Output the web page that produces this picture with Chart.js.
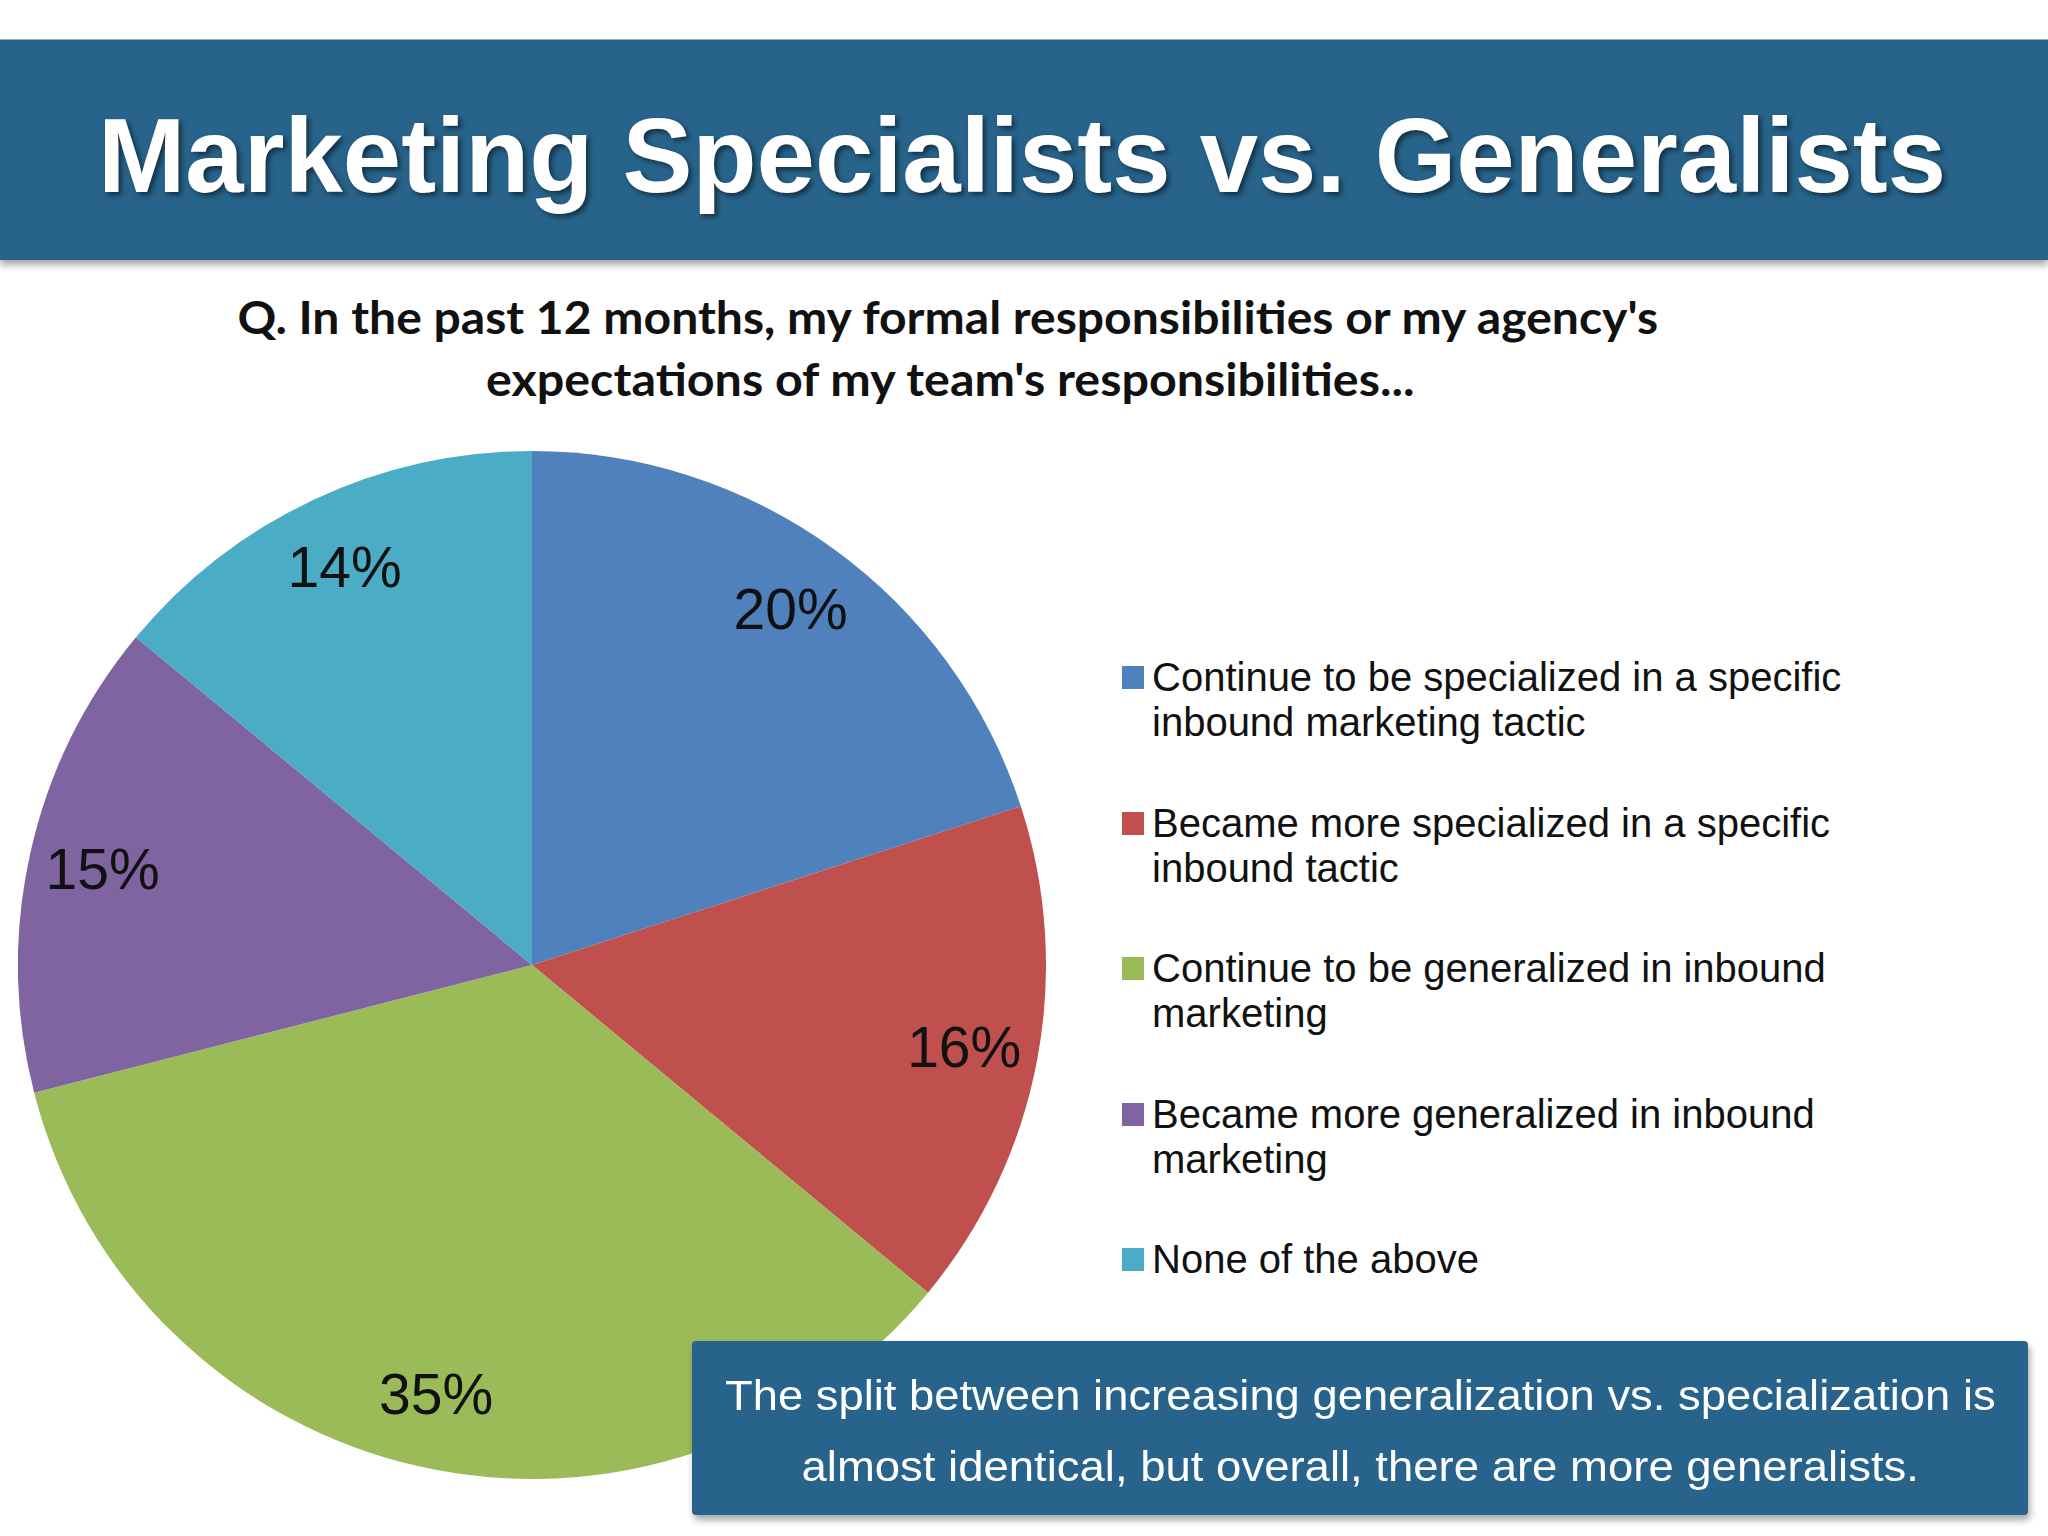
<!DOCTYPE html>
<html><head><meta charset="utf-8">
<script src="https://cdn.jsdelivr.net/npm/chart.js@4.4.1/dist/chart.umd.min.js"></script>
<style>
html,body{margin:0;padding:0;background:#fff;}
body{width:2048px;height:1536px;position:relative;overflow:hidden;font-family:"Liberation Sans",Arial,sans-serif;}
#band{position:absolute;left:0;top:39px;width:2048px;height:220px;background:#27638A;box-shadow:0 5px 7px rgba(0,0,0,0.35);border-top:1px solid #8fb2cc;}
.t{position:absolute;white-space:nowrap;line-height:1;transform-origin:center top;}
#title{font-weight:bold;font-size:105px;color:#fff;text-shadow:3px 3px 5px rgba(0,0,0,0.5);}
.sub{font-family:Lato,"Liberation Sans",sans-serif;font-weight:bold;font-size:46px;color:#111;}
#chartWrap{position:absolute;left:18px;top:451px;width:1028px;height:1028px;}
.leg{position:absolute;left:1122px;font-size:40px;line-height:45px;color:#111;}
.leg .sw{position:absolute;left:0;top:11px;width:22px;height:23px;}
.leg .tx{position:absolute;left:30px;top:0;white-space:nowrap;}
#callout{position:absolute;left:692px;top:1341px;width:1336px;height:174px;background:#27638A;border-radius:4px;box-shadow:2px 5px 7px rgba(0,0,0,0.35);}
.cal{font-size:43px;color:#fff;}
</style>
</head><body>
<div id="band"></div>
<div class="t" id="title" data-cx="1022" data-w="1848" style="top:103px">Marketing Specialists vs. Generalists</div>
<div class="t sub" data-cx="948" data-w="1421" style="top:294px">Q. In the past 12 months, my formal responsibilities or my agency's</div>
<div class="t sub" data-cx="950" data-w="928" style="top:356px">expectations of my team's responsibilities...</div>
<div id="chartWrap"><canvas id="c" width="1028" height="1028"></canvas></div>
<div id="legend"></div>
<div id="callout"></div>
<div class="t cal" data-cx="1360" data-w="1271" style="top:1374px">The split between increasing generalization vs. specialization is</div>
<div class="t cal" data-cx="1360" data-w="1117" style="top:1445px">almost identical, but overall, there are more generalists.</div>
<script>
const categories = [
  ["Continue to be specialized in a specific", "inbound marketing tactic"],
  ["Became more specialized in a specific", "inbound tactic"],
  ["Continue to be generalized in inbound", "marketing"],
  ["Became more generalized in inbound", "marketing"],
  ["None of the above"]
];
const shares = [20, 16, 35, 15, 14];
const sliceColors = ["#4F81BD", "#C0504D", "#9BBB59", "#8064A2", "#4BACC6"];

// fit text lines to measured widths
document.querySelectorAll('.t[data-w]').forEach(el => {
  const nat = el.offsetWidth;
  const w = +el.dataset.w, cx = +el.dataset.cx;
  el.style.left = (cx - nat / 2) + 'px';
  el.style.transform = 'scaleX(' + (w / nat) + ')';
});

// legend
const legendEl = document.getElementById('legend');
const legTop0 = 655, legStep = 145.6;
categories.forEach((lines, i) => {
  const d = document.createElement('div');
  d.className = 'leg';
  d.style.top = (legTop0 + i * legStep) + 'px';
  const sw = document.createElement('div');
  sw.className = 'sw'; sw.style.background = sliceColors[i];
  const tx = document.createElement('div');
  tx.className = 'tx'; tx.innerHTML = lines.join('<br>');
  d.appendChild(sw); d.appendChild(tx);
  legendEl.appendChild(d);
});

const sliceLabels = {
  id: 'sliceLabels',
  afterDatasetsDraw(chart) {
    const ctx = chart.ctx;
    const meta = chart.getDatasetMeta(0);
    const vals = chart.data.datasets[0].data;
    ctx.save();
    ctx.font = '57px "Liberation Sans", Arial, sans-serif';
    ctx.fillStyle = '#111';
    ctx.textAlign = 'center';
    ctx.textBaseline = 'middle';
    meta.data.forEach((arc, i) => {
      const p = arc.getProps(['x', 'y', 'startAngle', 'endAngle', 'outerRadius'], true);
      const a = (p.startAngle + p.endAngle) / 2;
      const r = p.outerRadius * 0.856;
      ctx.fillText(vals[i] + '%', p.x + Math.cos(a) * r, p.y + Math.sin(a) * r + 4);
    });
    ctx.restore();
  }
};

new Chart(document.getElementById('c'), {
  type: 'pie',
  data: {
    labels: categories,
    datasets: [{ data: shares, backgroundColor: sliceColors, borderWidth: 0, hoverOffset: 0 }]
  },
  options: {
    responsive: false,
    animation: false,
    devicePixelRatio: 1,
    layout: { padding: 0 },
    plugins: { legend: { display: false }, tooltip: { enabled: false } }
  },
  plugins: [sliceLabels]
});
</script>
</body></html>
